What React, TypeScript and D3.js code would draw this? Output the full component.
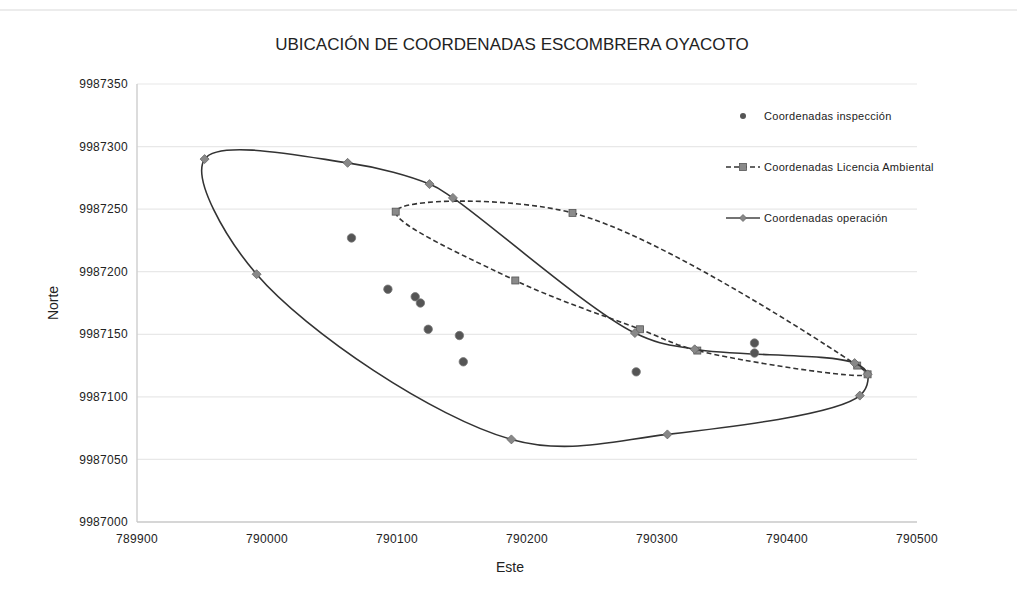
import React from 'react';
import * as d3 from 'd3';

const xTicks = [789900, 790000, 790100, 790200, 790300, 790400, 790500];
const yTicks = [9987000, 9987050, 9987100, 9987150, 9987200, 9987250, 9987300, 9987350];

const inspEste = [790065, 790093, 790114, 790118, 790124, 790148, 790151, 790284, 790375, 790375];
const inspNorte = [9987227, 9987186, 9987180, 9987175, 9987154, 9987149, 9987128, 9987120, 9987143, 9987135];

const licEste = [790099, 790235, 790454, 790462, 790331, 790287, 790191];
const licNorte = [9987248, 9987247, 9987125, 9987118, 9987137, 9987154, 9987193];

const opEste = [789952, 790062, 790125, 790143, 790283, 790329, 790452, 790462, 790456, 790308, 790188, 789992];
const opNorte = [9987290, 9987287, 9987270, 9987259, 9987151, 9987138, 9987127, 9987118, 9987101, 9987070, 9987066, 9987198];

const legendLabels = ['Coordenadas inspección', 'Coordenadas Licencia Ambiental', 'Coordenadas operación'];

const W = 1017, H = 589;
const L = 137, R = 917, T = 84, B = 522;
const FONT = '"Liberation Sans", Arial, sans-serif';

export default function App() {
  const x = d3.scaleLinear().domain([789900, 790500]).range([L, R]);
  const y = d3.scaleLinear().domain([9987000, 9987350]).range([B, T]);

  const line = d3.line<[number, number]>()
    .x(d => x(d[0])).y(d => y(d[1]))
    .curve(d3.curveCatmullRomClosed.alpha(0.5));

  const opPts: [number, number][] = opEste.map((e, i) => [e, opNorte[i]]);
  const licPts: [number, number][] = licEste.map((e, i) => [e, licNorte[i]]);
  const inspPts: [number, number][] = inspEste.map((e, i) => [e, inspNorte[i]]);

  const diamond = (cx: number, cy: number, s = 5) =>
    `M${cx},${cy - s}L${cx + s},${cy}L${cx},${cy + s}L${cx - s},${cy}Z`;

  const legY = [116, 167, 218];
  const legX0 = 726, legX1 = 760, legM = 743, legT = 764;

  return (
    <div style={{ position: 'absolute', left: 0, top: 0, width: W, height: H, background: '#fff' }}>
      <svg width={W} height={H} style={{ display: 'block' }} fontFamily={FONT}>
        <rect x={0} y={0} width={W} height={H} fill="#fff" />
        <line x1={0} x2={W} y1={10} y2={10} stroke="#ececec" strokeWidth={2} />
        <text x={512} y={50} textAnchor="middle" fontSize={17} fill="#222">UBICACIÓN DE COORDENADAS ESCOMBRERA OYACOTO</text>

        {yTicks.map(t => (
          <g key={t}>
            {t !== 9987000 && <line x1={L} x2={R} y1={y(t)} y2={y(t)} stroke="#e8e8e8" strokeWidth={1.2} />}
            <text x={128} y={y(t)} dy="0.35em" textAnchor="end" fontSize={12} letterSpacing={0.3} fill="#222">{t}</text>
          </g>
        ))}
        <line x1={L} x2={L} y1={T} y2={B} stroke="#d0d0d0" strokeWidth={1.5} />
        <line x1={L} x2={R} y1={B} y2={B} stroke="#c8c8c8" strokeWidth={1.5} />
        {xTicks.map(t => (
          <text key={t} x={x(t)} y={543} textAnchor="middle" fontSize={12} letterSpacing={0.3} fill="#222">{t}</text>
        ))}
        <text x={510} y={572} textAnchor="middle" fontSize={14} fill="#222">Este</text>
        <text transform="translate(58,303) rotate(-90)" textAnchor="middle" fontSize={14} fill="#222">Norte</text>

        {/* Licencia Ambiental */}
        <path d={line(licPts) || ''} fill="none" stroke="#333" strokeWidth={1.6} strokeDasharray="5,3" />
        {licPts.map((p, i) => (
          <rect key={'l' + i} x={x(p[0]) - 3.5} y={y(p[1]) - 3.5} width={7} height={7} fill="#8a8a8a" stroke="#555" strokeWidth={0.8} />
        ))}

        {/* Operación */}
        <path d={line(opPts) || ''} fill="none" stroke="#333" strokeWidth={1.6} />
        {opPts.map((p, i) => (
          <path key={'o' + i} d={diamond(x(p[0]), y(p[1]), 4.5)} fill="#888" stroke="#666" strokeWidth={0.8} />
        ))}

        {/* Inspección */}
        {inspPts.map((p, i) => (
          <circle key={'i' + i} cx={x(p[0])} cy={y(p[1])} r={4.2} fill="#555" stroke="#777" strokeWidth={0.8} />
        ))}

        {/* Legend */}
        <circle cx={legM} cy={legY[0]} r={3} fill="#555" />
        <line x1={legX0} x2={legX1} y1={legY[1]} y2={legY[1]} stroke="#333" strokeWidth={1.5} strokeDasharray="5,3" />
        <rect x={legM - 3.5} y={legY[1] - 3.5} width={7} height={7} fill="#8a8a8a" stroke="#555" strokeWidth={0.8} />
        <line x1={legX0} x2={legX1} y1={legY[2]} y2={legY[2]} stroke="#444" strokeWidth={1.5} />
        <path d={diamond(legM, legY[2], 3.5)} fill="#888" stroke="#666" strokeWidth={0.8} />
        {legendLabels.map((s, i) => (
          <text key={s} x={legT} y={legY[i]} dy="0.35em" fontSize={11} letterSpacing={0.3} fill="#222">{s}</text>
        ))}
      </svg>
    </div>
  );
}
